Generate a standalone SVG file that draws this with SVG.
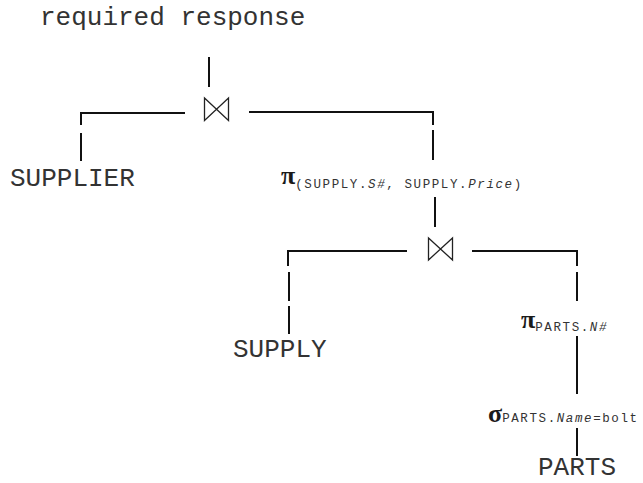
<svg xmlns="http://www.w3.org/2000/svg" width="643" height="483" viewBox="0 0 643 483">
<style>
.t{font-family:"Liberation Mono","Courier New",monospace;font-size:26px;fill:#333}
.op{font-family:"Liberation Serif","Times New Roman",serif;font-size:26px;font-weight:bold;fill:#1a1a1a}
.sub{font-family:"Liberation Mono","Courier New",monospace;font-size:12.5px;letter-spacing:1.6px;font-weight:normal;fill:#333}
.i{font-style:italic}
.c{stroke:#111;stroke-width:2;fill:none}
.bt{stroke:#222;stroke-width:1.3;fill:none;stroke-linejoin:miter}
</style>
<rect width="643" height="483" fill="#fff"/>
<g id="connectors">
<path class="c" d="M209,57V87"/>
<path class="c" d="M185,113H81V125M81,133V161"/>
<path class="c" d="M249,112H433V125M433,130V160"/>
<path class="c" d="M435,197V227"/>
<path class="c" d="M407,251H288V266M289,272V301M289,306V334"/>
<path class="c" d="M472,251H577V266M577,272V301"/>
<path class="c" d="M577,336V394"/>
<path class="c" d="M577,428V456"/>
</g>
<g id="result"><text class="t" x="40" y="25">required response</text></g>
<g id="join1"><path class="bt" d="M204.5,98L228.5,120.5V98L204.5,120.5Z"/></g>
<g id="supplier"><text class="t" x="10" y="186">SUPPLIER</text></g>
<g id="proj1"><text x="281" y="184"><tspan class="op">π</tspan><tspan class="sub" y="188" dx="0">(SUPPLY.<tspan class="i">S#</tspan>, SUPPLY.<tspan class="i">Price</tspan>)</tspan></text></g>
<g id="join2"><path class="bt" d="M428.5,238L452.5,260V238L428.5,260Z"/></g>
<g id="supply"><text class="t" x="233" y="357">SUPPLY</text></g>
<g id="proj2"><text x="521" y="328"><tspan class="op">π</tspan><tspan class="sub" y="331" dx="0">PARTS.<tspan class="i">N#</tspan></tspan></text></g>
<g id="select"><text x="488" y="422"><tspan class="op">σ</tspan><tspan class="sub" dx="0">PARTS.<tspan class="i">Name</tspan>=bolt</tspan></text></g>
<g id="parts"><text class="t" x="538" y="475">PARTS</text></g>
</svg>
